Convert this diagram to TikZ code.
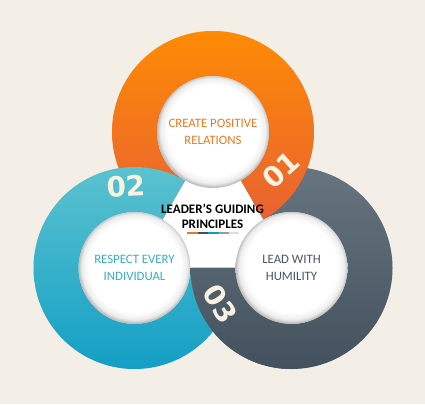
\documentclass[tikz,border=0pt]{standalone}
\usepackage{fontspec}
\setmainfont{Carlito}
\newfontfamily\numfont{DejaVu Sans}
\usetikzlibrary{calc}

\definecolor{bgcream}{RGB}{244,239,230}
\definecolor{orangetop}{RGB}{255,142,0}
\definecolor{orangebot}{RGB}{232,98,50}
\definecolor{tealtop}{RGB}{96,197,208}
\definecolor{tealbot}{RGB}{14,156,196}
\definecolor{slatetop}{RGB}{102,117,128}
\definecolor{slatebot}{RGB}{67,80,93}
\definecolor{orangetext}{RGB}{234,122,30}
\definecolor{tealtext}{RGB}{58,172,198}
\definecolor{slatetext}{RGB}{72,86,98}
\definecolor{numcream}{RGB}{248,242,226}

\pgfdeclareradialshading{discshade}{\pgfpoint{0bp}{1bp}}{color(0bp)=(white); color(20.5bp)=(white); color(23.5bp)=(white!93!black); color(25bp)=(white!75!black); color(50bp)=(white!75!black)}

\tikzset{
  ringband/.style n args={3}{insert path={($(#1)+(#2:101)$) arc[start angle=#2,end angle=#3,radius=101] -- ($(#1)+(#3:56)$) arc[start angle=#3,end angle=#2,radius=56] -- cycle}},
  ringshadow/.style={fill=black,opacity=0.10,xshift=1.5,yshift=-2},
  disc/.style={shading=discshade},
  disctext/.style={align=center,font=\fontsize{12.8}{16.5}\selectfont},
  numlabel/.style={text=numcream,inner sep=0pt,font=\numfont\bfseries\fontsize{28}{28}\selectfont},
  barpiece/.style={minimum width=10.4pt,minimum height=2pt,inner sep=0pt,outer sep=0pt}
}

\begin{document}
\begin{tikzpicture}[x=1pt,y=1pt]
  \fill[bgcream] (0,0) rectangle (425,404);
  \useasboundingbox (0,0) rectangle (425,404);

  \coordinate (O) at (213,272);
  \coordinate (T) at (134.5,136);
  \coordinate (G) at (291.5,136);
  \coordinate (C) at (213,181.3);

  \fill[white] (C) circle[radius=95];

  \fill[ringshadow,ringband={G}{180}{480}];
  \shade[top color=slatetop,bottom color=slatebot,ringband={G}{180}{480}];
  \fill[ringshadow,ringband={O}{300}{600}];
  \shade[top color=orangetop,bottom color=orangebot,ringband={O}{300}{600}];
  \fill[ringshadow,ringband={T}{60}{360}];
  \shade[top color=tealtop,bottom color=tealbot,ringband={T}{60}{360}];
  \begin{scope}
    \clip[ringband={G}{180}{270}];
    \shade[top color=slatetop,bottom color=slatebot,ringband={G}{180}{480}];
  \end{scope}

  \shade[disc] (O) circle[radius=56];
  \shade[disc] (T) circle[radius=56];
  \shade[disc] (G) circle[radius=56];

  \node[disctext,text=orangetext] (create) at (O) {CREATE POSITIVE\\RELATIONS};
  \node[disctext,text=tealtext] (respect) at (T) {RESPECT EVERY\\INDIVIDUAL};
  \node[disctext,text=slatetext] (lead) at (G) {LEAD WITH\\HUMILITY};

  \node[numlabel,rotate=42] (one) at (281,234) {01};
  \node[numlabel,rotate=3] (two) at (126,218) {02};
  \node[numlabel,rotate=-58] (three) at (220,100) {03};

  \node[align=center,font=\bfseries\fontsize{13}{15}\selectfont] (title) at (212.5,188) {LEADER’S GUIDING\\PRINCIPLES};

  \node[barpiece,fill=orangetext,anchor=west] (bar1) at (187.3,171) {};
  \node[barpiece,fill=slatebot,anchor=west] (bar2) at (bar1.east) {};
  \node[barpiece,fill=tealbot,anchor=west] (bar3) at (bar2.east) {};
  \node[barpiece,fill=black!40,anchor=west] (bar4) at (bar3.east) {};
  \node[barpiece,fill=black!12,anchor=west] (bar5) at (bar4.east) {};
\end{tikzpicture}
\end{document}
